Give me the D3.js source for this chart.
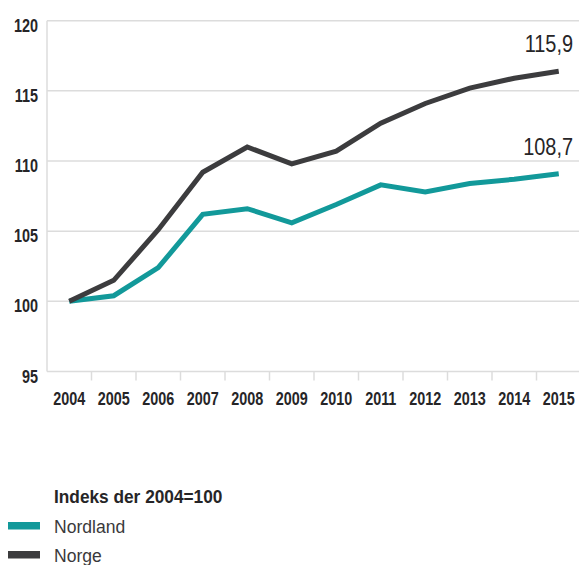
<!DOCTYPE html>
<html>
<head>
<meta charset="utf-8">
<script src="https://cdn.jsdelivr.net/npm/d3@7"></script>
<style>
  html, body { margin: 0; padding: 0; background: #fff; }
  svg { display: block; font-family: "Liberation Sans", Arial, sans-serif; }
</style>
</head>
<body>
<svg></svg>
<script>
const years = ["2004", "2005", "2006", "2007", "2008", "2009", "2010", "2011", "2012", "2013", "2014", "2015"];
const nordland = [100, 100.4, 102.4, 106.2, 106.6, 105.6, 106.9, 108.3, 107.8, 108.4, 108.7, 109.1];
const norge = [100, 101.5, 105.1, 109.2, 111.0, 109.8, 110.7, 112.7, 114.1, 115.2, 115.9, 116.4];
const yTicks = [95, 100, 105, 110, 115, 120];
const endLabels = ["108,7", "115,9"];
const seriesNames = ["Nordland", "Norge"];
const legendTitle = "Indeks der 2004=100";

const width = 579;
const height = 565;
const textColor = "#262527";
const colors = ["#12999a", "#3c3c3e"];
// the original font is a condensed one, so squeeze the text horizontally
const squeeze = "scale(0.8, 1)";

const svg = d3.select("svg")
    .attr("width", width)
    .attr("height", height);

const x = d3.scaleBand()
    .domain(years)
    .range([47, 47 + 12 * 44.5])
    .padding(0);

const y = d3.scaleLinear()
    .domain([95, 120])
    .range([371.5, 20.7]);

// gridlines
svg.append("g")
    .selectAll("line")
    .data(yTicks)
    .enter()
    .append("line")
    .attr("x1", 47)
    .attr("x2", width)
    .attr("y1", d => y(d))
    .attr("y2", d => y(d))
    .attr("stroke", "#dcdcdc")
    .attr("stroke-width", 1.5);

// left axis line
svg.append("line")
    .attr("x1", 47).attr("x2", 47)
    .attr("y1", y(120)).attr("y2", y(95))
    .attr("stroke", "#dcdcdc")
    .attr("stroke-width", 1.5);

// x ticks between the years
svg.append("g")
    .selectAll("line")
    .data(years.slice(1))
    .enter()
    .append("line")
    .attr("x1", d => x(d))
    .attr("x2", d => x(d))
    .attr("y1", y(95))
    .attr("y2", y(95) + 9)
    .attr("stroke", "#dcdcdc")
    .attr("stroke-width", 1.5);

// x axis labels
const xAxis = svg.append("g")
    .attr("transform", `translate(0, ${y(95)})`)
    .call(d3.axisBottom(x).tickSize(0).tickPadding(0));
xAxis.select(".domain").remove();
xAxis.selectAll("text")
    .attr("y", 34)
    .attr("dy", 0)
    .attr("transform", squeeze)
    .attr("fill", textColor)
    .style("font-family", "'Liberation Sans', Arial, sans-serif")
    .style("font-size", "18px")
    .style("font-weight", "bold");

// y axis labels
const yAxis = svg.append("g")
    .attr("transform", "translate(38, 0)")
    .call(d3.axisLeft(y).tickValues(yTicks).tickSize(0).tickPadding(0));
yAxis.select(".domain").remove();
yAxis.selectAll("text")
    .attr("dy", 10.5)
    .attr("transform", squeeze)
    .attr("fill", textColor)
    .style("font-family", "'Liberation Sans', Arial, sans-serif")
    .style("font-size", "18px")
    .style("font-weight", "bold");

// lines
const line = d3.line()
    .x((d, i) => x(years[i]) + x.bandwidth() / 2)
    .y(d => y(d));

[nordland, norge].forEach((values, i) => {
    svg.append("path")
        .datum(values)
        .attr("d", line)
        .attr("fill", "none")
        .attr("stroke", colors[i])
        .attr("stroke-width", 5)
        .attr("stroke-linejoin", "miter");
});

// end labels
[nordland, norge].forEach((values, i) => {
    svg.append("text")
        .attr("transform", `translate(573, ${y(values[values.length - 1]) - 19}) scale(0.83, 1)`)
        .attr("text-anchor", "end")
        .attr("fill", textColor)
        .style("font-size", "24px")
        .text(endLabels[i]);
});

// legend
svg.append("text")
    .attr("transform", "translate(54, 503) scale(0.96, 1)")
    .attr("fill", textColor)
    .style("font-size", "18px")
    .style("font-weight", "bold")
    .text(legendTitle);

seriesNames.forEach((name, i) => {
    const ly = 533 + i * 29;
    svg.append("rect")
        .attr("x", 8)
        .attr("y", ly - 11)
        .attr("width", 32)
        .attr("height", 7.5)
        .attr("fill", colors[i]);
    svg.append("text")
        .attr("transform", `translate(54, ${ly}) scale(0.95, 1)`)
        .attr("fill", "#3a393b")
        .style("font-size", "18.5px")
        .text(name);
});
</script>
</body>
</html>
